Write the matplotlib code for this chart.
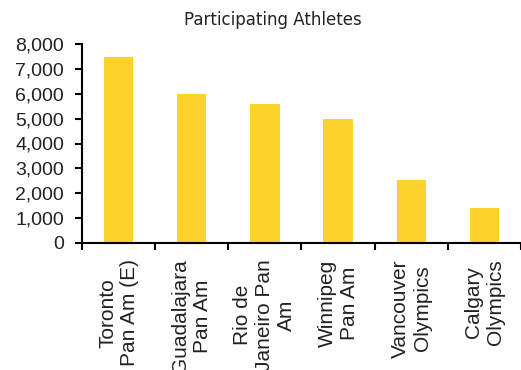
import numpy as np
import matplotlib
matplotlib.use("Agg")
import matplotlib.pyplot as plt
from matplotlib.ticker import FuncFormatter

# data
games = ["Toronto\nPan Am (E)", "Guadalajara\nPan Am", "Rio de\nJaneiro Pan\nAm",
         "Winnipeg\nPan Am", "Vancouver\nOlympics", "Calgary\nOlympics"]
athletes = [7500, 6000, 5600, 5000, 2530, 1410]
yticks = [0, 1000, 2000, 3000, 4000, 5000, 6000, 7000, 8000]

fig = plt.figure(figsize=(5.21, 3.70), dpi=100)
ax = fig.add_axes([82 / 521, 127.3 / 370, 1 - 82 / 521, (242.7 - 44.3) / 370])

x = np.arange(len(games))
ax.bar(x, athletes, width=0.4, color="#FED22D")

ax.set_ylim(0, 8000)
ax.set_xlim(-0.5, 5.42)
ax.set_yticks(yticks)
ax.yaxis.set_major_formatter(FuncFormatter(lambda v, p: f"{int(v):,}"))

ax.set_xticks(x)
ax.set_xticklabels(games, rotation=90, fontfamily="Liberation Sans", fontsize=15,
                   color="#222222")
ax.set_xticks(np.arange(len(games) + 1) - 0.5, minor=True)
ax.tick_params(axis="x", which="major", length=0, pad=12)
ax.tick_params(axis="x", which="minor", length=5, width=1.5, direction="out")
ax.tick_params(axis="y", length=5, width=1.5, pad=8, labelsize=14, labelcolor="#222222")
for lab in ax.get_yticklabels():
    lab.set_fontfamily("Liberation Sans")

for s in ["top", "right"]:
    ax.spines[s].set_visible(False)
ax.spines["left"].set_linewidth(1.5)
ax.spines["bottom"].set_linewidth(1.5)

fig.text(0.524, 0.945, "Participating Athletes", ha="center", va="center",
         fontsize=12, fontfamily="DejaVu Sans", color="#222222")

fig.savefig("out.png", dpi=100)
